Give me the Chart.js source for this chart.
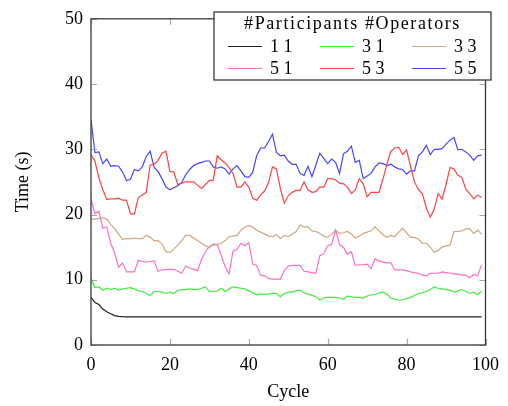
<!DOCTYPE html>
<html>
<head>
<meta charset="utf-8">
<script src="https://cdn.jsdelivr.net/npm/chart.js@4/dist/chart.umd.min.js"></script>
<style>
  html, body { margin: 0; padding: 0; background: #fff; }
  #wrap { width: 508px; height: 406px; }
</style>
</head>
<body>
<div id="wrap"><canvas id="timeChart" width="508" height="406"></canvas></div>
<script>
// cycle index for every sample
var cycles = Array.from({ length: 100 }, function (_, i) { return i; });

var xTicks = [0, 20, 40, 60, 80, 100];
var yTicks = [0, 10, 20, 30, 40, 50];

var seriesNames = ['1 1', '3 1', '3 3', '5 1', '5 3', '5 5'];

var time11 = [7.3, 6.5, 6.2, 5.5, 5.1, 4.8, 4.5, 4.4, 4.35, 4.32,
  4.3, 4.3, 4.3, 4.3, 4.3, 4.3, 4.3, 4.3, 4.3, 4.3,
  4.3, 4.3, 4.3, 4.3, 4.3, 4.3, 4.3, 4.3, 4.3, 4.3,
  4.3, 4.3, 4.3, 4.3, 4.3, 4.3, 4.3, 4.3, 4.3, 4.3,
  4.3, 4.3, 4.3, 4.3, 4.3, 4.3, 4.3, 4.3, 4.3, 4.3,
  4.3, 4.3, 4.3, 4.3, 4.3, 4.3, 4.3, 4.3, 4.3, 4.3,
  4.3, 4.3, 4.3, 4.3, 4.3, 4.3, 4.3, 4.3, 4.3, 4.3,
  4.3, 4.3, 4.3, 4.3, 4.3, 4.3, 4.3, 4.3, 4.3, 4.3,
  4.3, 4.3, 4.3, 4.3, 4.3, 4.3, 4.3, 4.3, 4.3, 4.3,
  4.3, 4.3, 4.3, 4.3, 4.3, 4.3, 4.3, 4.3, 4.3, 4.3];

var time31 = [10.2, 8.8, 8.9, 8.4, 8.7, 8.5, 8.7, 8.4, 8.6, 8.7,
  8.8, 8.6, 8.3, 8.2, 7.9, 7.6, 8.2, 8.2, 8.1, 7.9,
  8.1, 7.9, 8.4, 8.5, 8.5, 8.6, 8.5, 8.5, 8.7, 8.9,
  8.2, 8.2, 8.3, 8.7, 8.2, 8.6, 8.9, 8.8, 8.7, 8.6,
  8.3, 8.0, 7.7, 7.8, 7.8, 7.8, 7.9, 7.9, 7.4, 7.9,
  8.1, 8.1, 8.3, 8.4, 8.0, 7.8, 7.6, 7.4, 6.9, 7.2,
  7.3, 7.3, 7.3, 7.2, 7.0, 7.5, 7.4, 7.3, 7.3, 7.2,
  7.5, 7.7, 7.7, 8.0, 8.1, 7.8, 7.2, 7.0, 6.9, 6.9,
  7.1, 7.3, 7.6, 7.9, 8.0, 8.2, 8.5, 8.9, 8.7, 8.6,
  8.5, 8.4, 8.1, 8.3, 8.5, 8.2, 7.9, 8.1, 7.7, 8.2];

var time33 = [19.3, 19.3, 19.4, 19.5, 19.3, 18.5, 17.8, 17.0, 16.2, 16.3,
  16.3, 16.4, 16.3, 16.3, 16.8, 16.5, 16.0, 16.0, 15.5, 14.3,
  14.2, 14.7, 15.3, 16.0, 16.8, 16.8, 16.4, 16.0, 15.6, 15.2,
  14.9, 15.5, 15.4, 15.6, 16.0, 16.6, 16.7, 16.8, 17.6, 18.1,
  18.3, 18.1, 17.6, 17.3, 17.0, 16.7, 16.6, 16.9, 16.3, 16.8,
  16.6, 17.0, 17.4, 18.4, 18.1, 18.1, 17.5, 17.4, 17.1, 16.7,
  16.5, 17.0, 17.6, 17.1, 17.2, 17.4, 17.0, 16.4, 16.7, 17.1,
  17.3, 17.5, 18.1, 17.5, 16.9, 16.5, 16.8, 16.6, 17.3, 17.9,
  17.2, 16.5, 16.5, 16.2, 15.6, 15.6, 15.0, 14.2, 14.5, 15.0,
  15.2, 15.3, 17.4, 17.4, 17.5, 17.8, 17.8, 17.1, 17.6, 17.0];

var time51 = [22.4, 20.1, 20.5, 17.9, 18.1, 15.6, 14.1, 11.9, 12.6, 11.2,
  11.2, 11.2, 13.0, 12.8, 12.7, 12.8, 12.9, 11.3, 11.5, 11.6,
  11.6, 11.6, 11.3, 11.0, 12.1, 11.8, 11.6, 11.4, 13.1, 14.3,
  15.1, 15.3, 15.4, 13.8, 12.0, 10.9, 14.4, 14.6, 15.6, 15.2,
  15.7, 12.4, 12.2, 10.7, 10.6, 10.2, 10.1, 10.1, 10.1, 11.4,
  12.1, 12.2, 12.2, 12.2, 11.3, 11.2, 11.1, 11.0, 13.7, 14.0,
  15.2, 15.4, 17.6, 15.4, 15.0, 13.9, 14.3, 12.2, 12.3, 12.3,
  12.4, 11.7, 13.2, 12.9, 12.7, 12.6, 12.6, 11.5, 11.5, 11.5,
  11.4, 11.2, 11.1, 11.0, 10.7, 10.6, 11.0, 11.0, 11.0, 11.2,
  11.1, 11.0, 10.9, 10.9, 10.7, 10.7, 10.3, 10.8, 10.6, 12.3];

var time53 = [29.2, 28.2, 25.6, 23.8, 22.3, 22.4, 22.4, 22.5, 22.2, 22.2,
  20.1, 20.1, 22.6, 23.0, 23.4, 27.6, 27.7, 28.3, 29.4, 29.7,
  26.6, 26.5, 24.6, 24.8, 25.0, 25.0, 25.0, 24.5, 24.0, 24.6,
  25.2, 25.3, 29.0, 28.4, 27.9, 27.2, 26.3, 24.2, 24.2, 25.0,
  24.2, 22.5, 22.2, 23.0, 23.6, 24.9, 27.3, 27.0, 24.0, 21.7,
  22.9, 23.4, 23.7, 23.7, 25.0, 23.8, 23.4, 23.5, 24.2, 24.2,
  25.5, 25.5, 25.3, 24.8, 24.7, 24.2, 23.2, 23.8, 25.5, 24.7,
  22.7, 23.4, 23.4, 23.4, 25.4, 27.7, 29.7, 30.2, 30.3, 29.2,
  29.9, 27.4, 25.0, 23.8, 23.2, 21.0, 19.6, 20.8, 23.2, 22.4,
  24.6, 27.2, 27.0, 26.0, 25.7, 23.9, 23.2, 22.4, 23.0, 22.6];

var time55 = [34.5, 29.5, 29.6, 27.8, 28.5, 27.4, 27.5, 27.4, 26.5, 25.2,
  25.4, 26.9, 26.7, 27.3, 28.9, 29.7, 27.2, 26.6, 25.5, 24.2,
  23.8, 24.1, 24.4, 24.9, 26.1, 26.9, 27.5, 27.8, 28.0, 28.2,
  28.2, 27.3, 27.1, 27.3, 27.0, 26.2, 27.0, 27.5, 26.7, 25.8,
  25.7, 26.5, 29.0, 30.2, 30.2, 31.2, 32.3, 29.5, 29.0, 29.1,
  28.2, 27.7, 27.7, 26.3, 26.0, 27.4, 25.8, 27.6, 29.4, 28.6,
  27.8, 28.5, 28.0, 26.3, 29.3, 29.7, 30.5, 28.0, 28.3, 25.5,
  25.9, 26.3, 27.3, 27.9, 27.8, 27.5, 27.7, 27.3, 27.0, 26.9,
  26.2, 26.7, 26.7, 29.0, 29.6, 30.6, 29.2, 30.0, 30.0, 30.1,
  30.8, 31.4, 31.8, 29.9, 30.0, 29.6, 29.1, 28.3, 29.0, 29.1];

var seriesValues = [time11, time31, time33, time51, time53, time55];
var seriesColors = ['#1e1e1e', '#40ee40', '#cfa680', '#ff6ec4', '#ff4242', '#4646ff'];

var serif = "'Liberation Serif', 'DejaVu Serif', serif";

function toPoints(vals) {
  return vals.map(function (v, i) { return { x: cycles[i], y: v }; });
}

var datasets = seriesNames.map(function (name, k) {
  return {
    label: name,
    data: toPoints(seriesValues[k]),
    borderColor: seriesColors[k],
    backgroundColor: seriesColors[k],
    borderWidth: 1.2,
    pointRadius: 0,
    tension: 0,
    fill: false
  };
});

// pgfplots-like frame with inward ticks on all four sides
var framePlugin = {
  id: 'frame',
  afterDatasetsDraw: function (chart) {
    var ctx = chart.ctx, a = chart.chartArea;
    var xs = chart.scales.x, ys = chart.scales.y;
    var len = 6;
    ctx.save();
    ctx.strokeStyle = '#a8a8a8';
    ctx.lineWidth = 1.2;
    ctx.beginPath();
    xTicks.forEach(function (t) {
      var px = Math.round(xs.getPixelForValue(t)) + 0.5;
      ctx.moveTo(px, a.bottom); ctx.lineTo(px, a.bottom - len);
      ctx.moveTo(px, a.top); ctx.lineTo(px, a.top + len);
    });
    yTicks.forEach(function (t) {
      var py = Math.round(ys.getPixelForValue(t)) + 0.5;
      ctx.moveTo(a.left, py); ctx.lineTo(a.left + len, py);
      ctx.moveTo(a.right, py); ctx.lineTo(a.right - len, py);
    });
    ctx.stroke();
    ctx.strokeStyle = '#3a3a3a';
    ctx.lineWidth = 1.3;
    ctx.strokeRect(a.left, a.top, a.right - a.left, a.bottom - a.top);
    ctx.restore();
  },
  afterDraw: function (chart) {
    // legend box in the top-right corner, three columns by two rows
    var ctx = chart.ctx;
    var box = { x: 214, y: 12, w: 277, h: 68 };
    var colLine = [228, 320, 412];
    var rowY = [46, 68];
    ctx.save();
    ctx.fillStyle = '#fff';
    ctx.fillRect(box.x, box.y, box.w, box.h);
    ctx.strokeStyle = '#3a3a3a';
    ctx.lineWidth = 1.3;
    ctx.strokeRect(box.x, box.y, box.w, box.h);
    ctx.fillStyle = '#000';
    ctx.font = '18px ' + serif;
    ctx.textAlign = 'center';
    ctx.textBaseline = 'middle';
    ctx.letterSpacing = '1.6px';
    ctx.fillText('#Participants #Operators', box.x + box.w / 2, 24);
    ctx.letterSpacing = '0px';
    ctx.textAlign = 'left';
    chart.data.datasets.forEach(function (ds, k) {
      var cx = colLine[k % 3], cy = rowY[Math.floor(k / 3)];
      ctx.strokeStyle = ds.borderColor;
      ctx.lineWidth = 1.2;
      ctx.beginPath();
      ctx.moveTo(cx, cy + 0.5);
      ctx.lineTo(cx + 34, cy + 0.5);
      ctx.stroke();
      ctx.fillText(ds.label, cx + 42, cy + 1);
    });
    ctx.restore();
  }
};

var ctx = document.getElementById('timeChart').getContext('2d');
var timeChart = new Chart(ctx, {
  type: 'line',
  data: { datasets: datasets },
  options: {
    responsive: false,
    animation: false,
    layout: { padding: { left: 0, top: 14, right: 17, bottom: 0 } },
    plugins: { legend: { display: false }, tooltip: { enabled: false } },
    scales: {
      x: {
        type: 'linear',
        min: 0,
        max: 100,
        afterFit: function (s) { s.height = 61; },
        afterBuildTicks: function (s) { s.ticks = xTicks.map(function (v) { return { value: v }; }); },
        grid: { display: false, drawTicks: false },
        border: { display: false },
        ticks: { color: '#000', padding: 9, font: { family: serif, size: 18 } },
        title: { display: true, text: 'Cycle', color: '#000', padding: { top: 0, bottom: 3 }, font: { family: serif, size: 18 } }
      },
      y: {
        min: 0,
        max: 50,
        afterFit: function (s) { s.width = 91; },
        afterBuildTicks: function (s) { s.ticks = yTicks.map(function (v) { return { value: v }; }); },
        grid: { display: false, drawTicks: false },
        border: { display: false },
        ticks: { color: '#000', padding: 8, font: { family: serif, size: 18 } },
        title: { display: true, text: 'Time (s)', color: '#000', padding: { top: 12, bottom: 0 }, font: { family: serif, size: 18 } }
      }
    }
  },
  plugins: [framePlugin]
});
</script>
</body>
</html>
